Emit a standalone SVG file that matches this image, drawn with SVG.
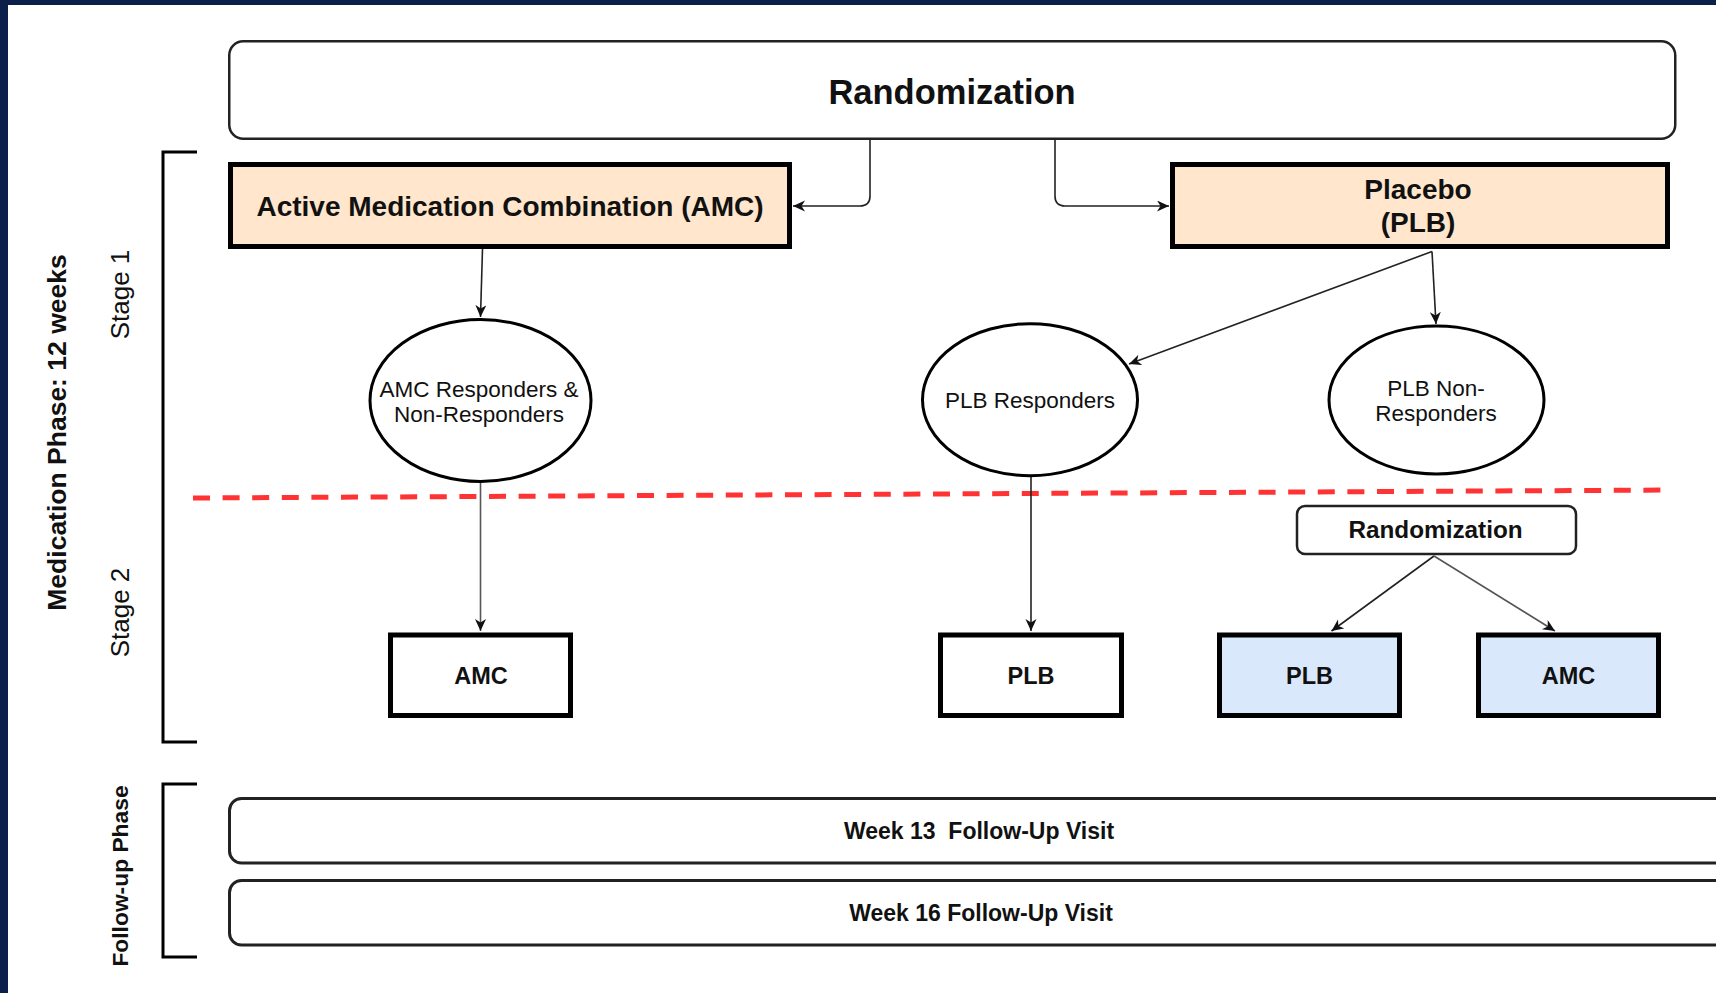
<svg xmlns="http://www.w3.org/2000/svg" width="1716" height="993" viewBox="0 0 1716 993">
  <defs>
    <marker id="arr" markerUnits="userSpaceOnUse" markerWidth="15" markerHeight="13" refX="12" refY="5.5" orient="auto">
      <path d="M0,0 L12,5.5 L0,11 L3.5,5.5 Z" fill="#111"/>
    </marker>
    <style>
      text { font-family: "Liberation Sans", Arial, Helvetica, sans-serif; fill: #111; }
      .b { font-weight: bold; }
      .mid { text-anchor: middle; }
      .rnd { fill: #ffffff; stroke: #222; stroke-width: 2.5; }
      .thick { stroke: #000; stroke-width: 5; }
      .orange { fill: #ffe6cc; }
      .blue { fill: #dae8fc; }
      .white { fill: #ffffff; }
      .ell { fill: #ffffff; stroke: #000; stroke-width: 3; }
      .con { fill: none; stroke: #222; stroke-width: 1.6; marker-end: url(#arr); }
      .brk { fill: none; stroke: #000; stroke-width: 3; }
    </style>
  </defs>

  <rect x="0" y="0" width="1716" height="993" fill="#ffffff"/>
  <rect x="0" y="0" width="1716" height="5" fill="#0a1f4a"/>
  <rect x="0" y="0" width="8" height="993" fill="#0a1f4a"/>

  <!-- side labels and brackets -->
  <g id="labels">
    <text class="b mid" font-size="26.5" transform="translate(66,432.5) rotate(-90)">Medication Phase: 12 weeks</text>
    <text class="mid" font-size="26" transform="translate(129,294.5) rotate(-90)">Stage 1</text>
    <text class="mid" font-size="26" transform="translate(129,612.5) rotate(-90)">Stage 2</text>
    <text class="b mid" font-size="22.8" transform="translate(128,876) rotate(-90)">Follow-up Phase</text>
    <path class="brk" d="M197,152 H163 V742 H197"/>
    <path class="brk" d="M197,784 H163 V957 H197"/>
  </g>

  <!-- stage divider -->
  <line x1="193" y1="498" x2="1672" y2="490" stroke="#ff3333" stroke-width="5" stroke-dasharray="17 12.6"/>

  <!-- connectors -->
  <g id="connectors">
    <path class="con" d="M870,140 V196 Q870,206 860,206 H793"/>
    <path class="con" d="M1055,140 V196 Q1055,206 1065,206 H1169"/>
    <path class="con" d="M482.5,249 L480.5,317"/>
    <path class="con" d="M1432,251.5 L1129,364"/>
    <path class="con" d="M1432,251.5 L1436,324"/>
    <path class="con" d="M480.5,483 V631" style="stroke:#555"/>
    <path class="con" d="M1031,477 V631"/>
    <path class="con" d="M1434,556 L1331.5,631"/>
    <path class="con" d="M1434,556 L1555,631" style="stroke:#555"/>
  </g>

  <g id="randomization-top">
    <rect class="rnd" x="229.25" y="41.25" width="1446" height="97.5" rx="14"/>
    <text class="b mid" x="952" y="104.3" font-size="34.5">Randomization</text>
  </g>

  <g id="amc-stage1">
    <rect class="thick orange" x="230.5" y="164.5" width="559" height="82"/>
    <text class="b mid" x="510" y="215.5" font-size="28">Active Medication Combination (AMC)</text>
  </g>

  <g id="placebo-stage1">
    <rect class="thick orange" x="1172.5" y="164.5" width="495" height="82"/>
    <text class="b mid" x="1418" y="198.5" font-size="28">Placebo</text>
    <text class="b mid" x="1418" y="232" font-size="28">(PLB)</text>
  </g>

  <g id="amc-responders">
    <ellipse class="ell" cx="480.5" cy="400.5" rx="110.5" ry="81"/>
    <text class="mid" x="479" y="396.7" font-size="22.5">AMC Responders &amp;</text>
    <text class="mid" x="479" y="421.7" font-size="22.5">Non-Responders</text>
  </g>

  <g id="plb-responders">
    <ellipse class="ell" cx="1030" cy="399.7" rx="107.5" ry="76"/>
    <text class="mid" x="1030" y="408.3" font-size="22.5">PLB Responders</text>
  </g>

  <g id="plb-nonresponders">
    <ellipse class="ell" cx="1436.5" cy="400" rx="107.5" ry="74"/>
    <text class="mid" x="1436" y="396" font-size="22.5">PLB Non-</text>
    <text class="mid" x="1436" y="421" font-size="22.5">Responders</text>
  </g>

  <g id="randomization-stage2">
    <rect class="rnd" x="1297" y="506" width="279" height="48" rx="8"/>
    <text class="b mid" x="1435.5" y="538.3" font-size="24.3">Randomization</text>
  </g>

  <g id="amc-stage2">
    <rect class="thick white" x="390.5" y="635" width="180" height="80.5"/>
    <text class="b mid" x="481" y="683.5" font-size="23.5">AMC</text>
  </g>

  <g id="plb-stage2">
    <rect class="thick white" x="940.5" y="635" width="181" height="80.5"/>
    <text class="b mid" x="1031" y="683.5" font-size="23.5">PLB</text>
  </g>

  <g id="plb-stage2-rand">
    <rect class="thick blue" x="1219.5" y="635" width="180" height="80.5"/>
    <text class="b mid" x="1309.5" y="683.5" font-size="23.5">PLB</text>
  </g>

  <g id="amc-stage2-rand">
    <rect class="thick blue" x="1478.5" y="635" width="180" height="80.5"/>
    <text class="b mid" x="1568.5" y="683.5" font-size="23.5">AMC</text>
  </g>

  <g id="week13">
    <rect class="rnd" x="229.5" y="798.5" width="1500" height="64.5" rx="12" style="stroke-width:3"/>
    <text class="b mid" x="979" y="839" font-size="23" xml:space="preserve" style="white-space:pre">Week 13  Follow-Up Visit</text>
  </g>

  <g id="week16">
    <rect class="rnd" x="229.5" y="880.5" width="1500" height="64.5" rx="12" style="stroke-width:3"/>
    <text class="b mid" x="981" y="920.7" font-size="23">Week 16 Follow-Up Visit</text>
  </g>
</svg>
